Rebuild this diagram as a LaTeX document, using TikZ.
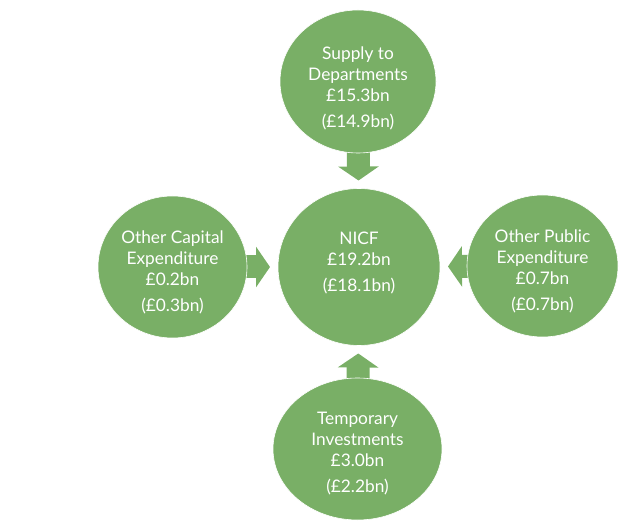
\documentclass[tikz,border=0pt]{standalone}
\usepackage{fontspec}
\setmainfont{Lato}
\usetikzlibrary{shapes.geometric,arrows.meta,backgrounds}
\definecolor{leafgreen}{RGB}{121,175,102}
\tikzset{
  bubble/.style={ellipse, fill=leafgreen, draw=white, line width=0.6pt, inner sep=0pt, outer sep=0pt},
  bubbletext/.style={text=white, align=center, font=\fontsize{17.3}{21}\selectfont},
  feed/.style={draw=leafgreen, line width=23pt, shorten >=8pt, shorten <=-6pt, -{Triangle[width=40pt,length=14pt]}}
}
\begin{document}
\begin{tikzpicture}[x=1pt,y=1pt]
\useasboundingbox (0,0) rectangle (620,530);
\node[bubble, minimum width=162pt, minimum height=157pt] (nicf) at (359,263) {};
\node[bubble, minimum width=156pt, minimum height=143pt] (supply) at (358,448.5) {};
\node[bubble, minimum width=169pt, minimum height=142pt] (temp) at (357.5,81) {};
\node[bubble, minimum width=149pt, minimum height=142pt] (capital) at (172.5,263) {};
\node[bubble, minimum width=151pt, minimum height=142pt] (public) at (542.5,264) {};
\node[bubbletext] (nicftext) at (359,267) {NICF\\£19.2bn\\[5pt](£18.1bn)};
\node[bubbletext] (supplytext) at (358,442) {Supply to\\Departments\\£15.3bn\\[5pt](£14.9bn)};
\node[bubbletext] (temptext) at (357.5,76) {Temporary\\Investments\\£3.0bn\\[5pt](£2.2bn)};
\node[bubbletext] (capitaltext) at (172.5,258) {Other Capital\\Expenditure\\£0.2bn\\[5pt](£0.3bn)};
\node[bubbletext] (publictext) at (542.5,259) {Other Public\\Expenditure\\£0.7bn\\[5pt](£0.7bn)};
\begin{scope}[on background layer]
\draw[feed] (supply) -- (nicf);
\draw[feed] (temp) -- (nicf);
\draw[feed] (capital) -- (nicf);
\draw[feed] (public) -- (nicf);
\end{scope}
\end{tikzpicture}
\end{document}
